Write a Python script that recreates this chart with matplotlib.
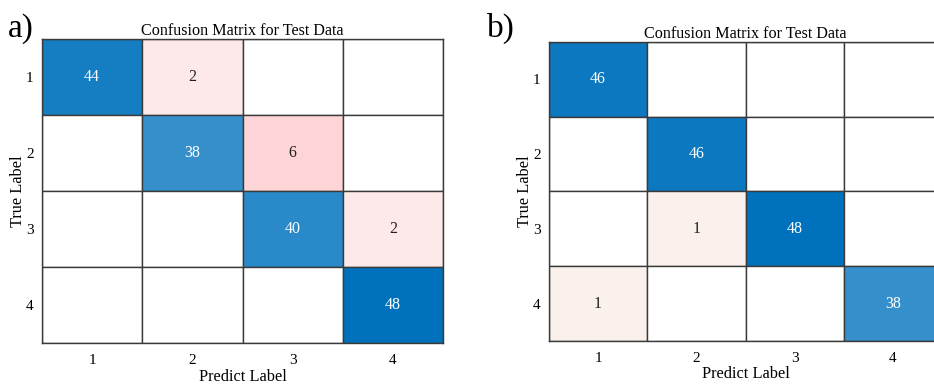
import numpy as np
import matplotlib.pyplot as plt
from matplotlib.colors import LinearSegmentedColormap

plt.rcParams["font.family"] = ["Liberation Serif", "DejaVu Serif"]

CLASSES = ["1", "2", "3", "4"]
CM_A = np.array([
    [44, 2, 0, 0],
    [0, 38, 6, 0],
    [0, 0, 40, 2],
    [0, 0, 0, 48],
])
CM_B = np.array([
    [46, 0, 0, 0],
    [0, 46, 0, 0],
    [0, 1, 48, 0],
    [1, 0, 0, 38],
])
TITLE = "Confusion Matrix for Test Data"
PANELS = ["a)", "b)"]

BLUE = np.array([0.0, 0.447, 0.741])
off_cmap = LinearSegmentedColormap.from_list(
    "off", [(0, "#ffffff"), (0.02, "#fbf1ec"), (0.042, "#fde8e8"),
            (0.125, "#fdd5d6"), (1, "#d95319")])


def draw_cm(ax, cm):
    n = cm.shape[0]
    vmax = cm.max()
    for i in range(n):
        for j in range(n):
            v = cm[i, j]
            t = v / vmax
            if v == 0:
                fc = "white"
            elif i == j:
                fc = tuple((1 - t) * np.ones(3) + t * BLUE)
            else:
                fc = off_cmap(t)
            ax.add_patch(plt.Rectangle((j, i), 1, 1, facecolor=fc,
                                       edgecolor="#3a3a3a", lw=1.0))
            if v > 0:
                col = "white" if (i == j and t > 0.5) else "#202020"
                ax.text(j + 0.5, i + 0.5, str(v), ha="center", va="center",
                        fontsize=11.5, color=col)
    ax.set_xlim(0, n)
    ax.set_ylim(n, 0)
    ax.set_xticks(np.arange(n) + 0.5)
    ax.set_yticks(np.arange(n) + 0.5)
    ax.set_xticklabels(CLASSES, fontsize=11)
    ax.set_yticklabels(CLASSES, fontsize=11)
    ax.tick_params(axis="x", length=0, pad=8)
    ax.tick_params(axis="y", length=0, pad=6)
    for s in ax.spines.values():
        s.set_color("#3a3a3a")
        s.set_linewidth(1.0)
    ax.set_xlabel("Predict Label", fontsize=11.8, labelpad=1)
    ax.set_ylabel("True Label", fontsize=11.8, labelpad=0)
    ax.set_title(TITLE, fontsize=11.6, pad=3)


fig = plt.figure(figsize=(9.34, 3.85), dpi=100)
ax1 = fig.add_axes([0.045, 0.109, 0.4293, 0.7896])
ax2 = fig.add_axes([0.5878, 0.1143, 0.4208, 0.7766])
draw_cm(ax1, CM_A)
draw_cm(ax2, CM_B)
fig.text(0.008, 0.905, PANELS[0], fontsize=24)
fig.text(0.521, 0.905, PANELS[1], fontsize=24)

plt.savefig("out.png", dpi=100)
